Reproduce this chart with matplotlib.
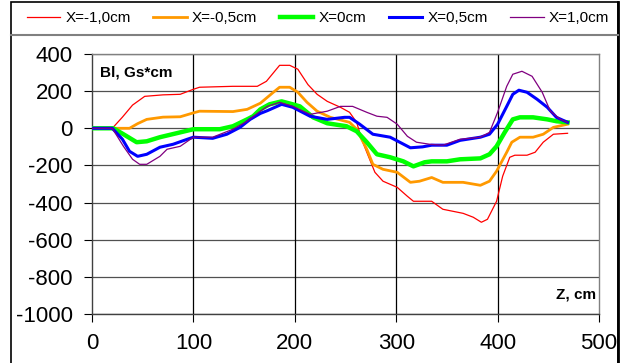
import matplotlib
matplotlib.use("Agg")
import matplotlib.pyplot as plt
from matplotlib.lines import Line2D
from matplotlib.patches import Rectangle

plt.rcParams['font.family'] = ['Liberation Sans', 'DejaVu Sans']

labels = ["X=-1,0cm", "X=-0,5cm", "X=0cm", "X=0,5cm", "X=1,0cm"]
colors = ["#ff0000", "#ff9900", "#00ff00", "#0000ff", "#800080"]
widths = [0.9, 2.0, 3.2, 2.2, 0.9]

z_m10 = [0, 20, 30, 40, 52, 70, 87, 100, 106, 139, 156, 163, 172, 185, 195, 203, 213, 222, 232, 245, 254, 261, 266, 271, 279, 287, 301, 311, 317, 335, 346, 356, 366, 376, 384, 390, 399, 405, 412, 417, 429, 437, 445, 455, 469]
b_m10 = [0, 0, 60, 125, 172, 180, 183, 210, 221, 226, 226, 226, 253, 339, 339, 318, 235, 183, 145, 113, 86, 32, -60, -129, -237, -285, -318, -366, -393, -393, -436, -447, -458, -479, -506, -490, -393, -258, -156, -145, -145, -129, -75, -32, -27]

z_m05 = [0, 37, 45, 54, 70, 87, 100, 106, 139, 153, 166, 178, 185, 195, 203, 212, 222, 235, 254, 261, 271, 277, 287, 301, 314, 323, 335, 346, 366, 383, 392, 399, 409, 414, 422, 435, 445, 455, 469]
b_m05 = [0, 0, 25, 48, 60, 62, 83, 92, 90, 102, 135, 190, 221, 221, 194, 140, 92, 59, 32, -5, -113, -194, -221, -237, -291, -285, -265, -291, -291, -307, -285, -231, -129, -75, -48, -48, -32, 5, 22]

z_0 = [0, 21, 31, 44, 54, 67, 87, 100, 126, 139, 153, 159, 166, 175, 187, 198, 205, 218, 232, 251, 261, 271, 281, 294, 307, 317, 328, 335, 350, 363, 383, 392, 399, 407, 415, 422, 435, 449, 458, 469]
b_0 = [0, 0, -32, -75, -70, -48, -22, -5, -5, 11, 48, 65, 102, 129, 145, 129, 118, 59, 27, 11, -16, -75, -140, -156, -178, -205, -183, -178, -178, -167, -162, -140, -97, -22, 48, 59, 59, 48, 38, 32]

z_p05 = [0, 20, 30, 37, 45, 54, 67, 80, 94, 100, 119, 133, 146, 156, 166, 173, 187, 198, 215, 232, 249, 254, 264, 277, 294, 314, 326, 335, 350, 363, 383, 392, 400, 409, 415, 421, 429, 439, 449, 458, 469]
b_p05 = [0, 0, -59, -124, -151, -140, -102, -86, -59, -48, -54, -32, 5, 48, 80, 95, 129, 113, 65, 48, 59, 59, 22, -32, -48, -105, -100, -91, -91, -65, -48, -32, 22, 118, 183, 205, 194, 156, 113, 59, 32]

z_p10 = [0, 20, 31, 40, 47, 54, 67, 74, 87, 100, 119, 139, 153, 166, 173, 185, 198, 215, 232, 245, 257, 271, 281, 291, 301, 311, 320, 333, 346, 363, 383, 392, 400, 409, 415, 424, 434, 444, 452, 462, 469]
b_p10 = [0, 0, -97, -167, -194, -194, -151, -113, -97, -48, -48, -5, 38, 92, 118, 140, 118, 75, 92, 118, 118, 86, 65, 59, 22, -43, -75, -86, -91, -59, -48, -22, 86, 226, 291, 307, 280, 194, 92, 48, 32]

x_ticks = [0, 100, 200, 300, 400, 500]
y_ticks = [-1000, -800, -600, -400, -200, 0, 200, 400]

W, H = 622, 363
fig = plt.figure(figsize=(W / 100, H / 100), dpi=100)
ax = fig.add_axes([92 / W, 1 - 314 / H, (599 - 92) / W, (314 - 54) / H])

series = [(z_m10, b_m10), (z_m05, b_m05), (z_0, b_0), (z_p05, b_p05), (z_p10, b_p10)]
handles = []
for (z, b), c, lw, lab in zip(series, colors, widths, labels):
    h, = ax.plot(z, b, color=c, lw=lw, label=lab, zorder=3)
    handles.append(h)

ax.set_xlim(0, 500)
ax.set_ylim(-1000, 400)
ax.set_xticks(x_ticks)
ax.set_yticks(y_ticks)
ax.set_xticklabels([str(v) for v in x_ticks], fontsize=16)
ax.set_yticklabels([str(v) for v in y_ticks], fontsize=16)
ax.tick_params(axis='both', direction='out', length=5.5, width=0.8, color='black')
ax.tick_params(axis='x', pad=8)
ax.tick_params(axis='y', pad=8.5)

for v in y_ticks:
    ax.axhline(v, color='#505050', lw=0.9, zorder=1)
for v in x_ticks[1:-1]:
    ax.axvline(v, color='black', lw=0.9, zorder=1)

ax.spines['top'].set_color('#808080')
ax.spines['right'].set_color('#808080')
ax.spines['left'].set_color('#404040')
ax.spines['bottom'].set_color('#404040')
for s in ax.spines.values():
    s.set_linewidth(1.0)

ax.text(8, 298, "Bl, Gs*cm", fontsize=11, fontweight='bold', va='center', ha='left')
ax.text(497, -894, "Z, cm", fontsize=11, fontweight='bold', va='center', ha='right')

# outer frame
fig.patches.append(Rectangle((11 / W, -0.1), (618 - 11) / W, 1 - 2 / H + 0.1,
                             transform=fig.transFigure, fill=False, edgecolor='black', lw=1.2))
fig.lines.append(Line2D([618 / W, 618 / W], [-0.1, 1 - 2 / H], transform=fig.transFigure,
                        color='black', lw=2.0))
fig.lines.append(Line2D([11 / W, 618 / W], [1 - 35 / H, 1 - 35 / H], transform=fig.transFigure,
                        color='#808080', lw=1.5))

fig.legend(handles=handles, loc='center', bbox_to_anchor=(318 / W, 1 - 18 / H), ncol=5,
           frameon=False, fontsize=11, handlelength=2.2, handletextpad=0.35,
           columnspacing=1.45, borderaxespad=0)

fig.savefig("out.png", dpi=100)
